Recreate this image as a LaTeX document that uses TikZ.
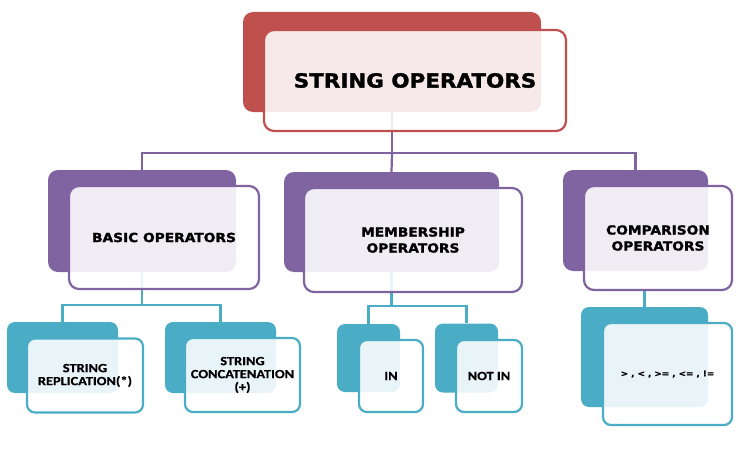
\documentclass[tikz,border=0pt]{standalone}
\usepackage{fontspec}
\newfontfamily\hfont[FakeStretch=1.1, BoldFeatures={FakeBold=1.6}]{DejaVu Sans}
\newfontfamily\lfont[FakeStretch=1.15, BoldFeatures={FakeBold=0.6}]{Carlito}
\definecolor{cR}{HTML}{C0504D}
\definecolor{cP}{HTML}{8064A2}
\definecolor{cT}{HTML}{4BACC6}
\pgfdeclarelayer{background}
\pgfsetlayers{background,main}
\tikzset{
  back/.style={fill=#1, rounded corners=10pt, inner sep=0pt, draw=none},
  front/.style={draw=#1, fill=white, fill opacity=.88, text opacity=1,
    line width=2.2pt, rounded corners=10pt, inner sep=2pt, align=center},
  smallr/.style={rounded corners=8pt},
  conn/.style={draw=#1, line width=2.2pt},
  titletext/.style={font=\hfont\bfseries\fontsize{19.5}{22}\selectfont},
  midtext/.style={font=\hfont\bfseries\fontsize{12.5}{16}\selectfont},
  lowtext/.style={font=\lfont\bfseries\fontsize{12.5}{13}\selectfont},
  optext/.style={font=\hfont\bfseries\fontsize{8}{10}\selectfont},
}
\begin{document}
\begin{tikzpicture}[x=1pt,y=-1pt]
\useasboundingbox (0,0) rectangle (743,468);
% level 1
\node[back=cR, minimum width=298pt, minimum height=100pt] (topB) at (392,62) {};
\node[front=cR, minimum width=302pt, minimum height=101pt, titletext] (topF) at (415,80.5) {STRING OPERATORS};
% level 2
\node[back=cP, minimum width=188pt, minimum height=102pt] (basicB) at (142,221) {};
\node[front=cP, minimum width=190pt, minimum height=103pt, midtext] (basicF) at (164,237.5) {BASIC OPERATORS};
\node[back=cP, minimum width=215pt, minimum height=100pt] (memB) at (391.5,222) {};
\node[front=cP, minimum width=218pt, minimum height=104pt, midtext] (memF) at (413,240) {MEMBERSHIP\\OPERATORS};
\node[back=cP, minimum width=145pt, minimum height=101pt] (compB) at (635.5,220.5) {};
\node[front=cP, minimum width=148pt, minimum height=104pt, midtext] (compF) at (658,238) {COMPARISON\\OPERATORS};
% level 3
\node[back=cT, smallr, minimum width=111pt, minimum height=71pt] (repB) at (62.5,357.5) {};
\node[front=cT, smallr, minimum width=116pt, minimum height=74pt, lowtext] (repF) at (85,375.5) {STRING\\REPLICATION(*)};
\node[back=cT, smallr, minimum width=111pt, minimum height=71pt] (catB) at (220.5,357.5) {};
\node[front=cT, smallr, minimum width=115pt, minimum height=74pt, lowtext] (catF) at (242.5,375) {STRING\\CONCATENATION\\(+)};
\node[back=cT, smallr, minimum width=63pt, minimum height=68pt] (inB) at (368.5,358) {};
\node[front=cT, smallr, minimum width=64pt, minimum height=72pt, lowtext] (inF) at (391,376) {IN};
\node[back=cT, smallr, minimum width=63pt, minimum height=69pt] (notB) at (466.5,358) {};
\node[front=cT, smallr, minimum width=66pt, minimum height=72pt, lowtext] (notF) at (489,376) {NOT IN};
\node[back=cT, smallr, minimum width=127pt, minimum height=100pt] (opsB) at (644.5,357) {};
\node[front=cT, smallr, minimum width=129pt, minimum height=102pt, optext] (opsF) at (667.5,374) {> , < , >= , <= , !=};
% connectors
\begin{pgfonlayer}{background}
\draw[conn=cP] (topB.south) -- ++(0,41) coordinate (h1);
\draw[conn=cP] (basicB.north) |- (h1) -| (compB.north);
\draw[conn=cP] (h1) -- (memB.north);
\draw[conn=cT] (basicB.south) -- ++(0,33) coordinate (h2);
\draw[conn=cT] (repB.north) |- (h2) -| (catB.north);
\draw[conn=cT] (memB.south) -- ++(0,34) coordinate (h3);
\draw[conn=cT] (inB.north) |- (h3) -| (notB.north);
\draw[conn=cT] (opsB.north) -- (opsB.north |- compF.south);
\end{pgfonlayer}
\end{tikzpicture}
\end{document}
